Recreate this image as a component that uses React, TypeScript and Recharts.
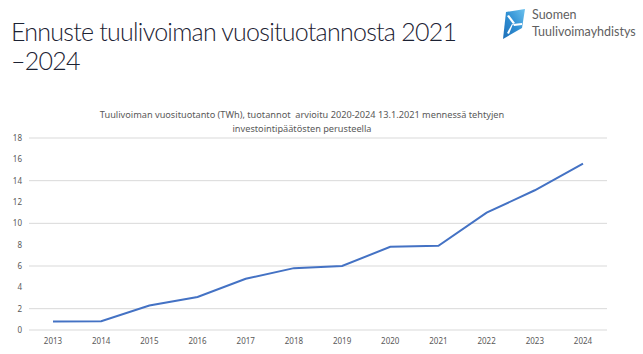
import { CartesianGrid, Line, LineChart, XAxis, YAxis } from "recharts";

const years = ["2013", "2014", "2015", "2016", "2017", "2018", "2019", "2020", "2021", "2022", "2023", "2024"];
const production = [0.8, 0.82, 2.3, 3.1, 4.8, 5.8, 6.0, 7.8, 7.9, 11.0, 13.1, 15.6];
const yTicks = [0, 2, 4, 6, 8, 10, 12, 14, 16, 18];

const data = years.map((year, i) => ({ year, value: production[i] }));

const tickStyle = { fontSize: 8, fill: "#595959", fontFamily: "'Noto Sans', sans-serif" };

function Logo() {
  return (
    <svg height={44} style={{ position: "absolute", left: 494, top: 4 }} width={36}>
      <defs>
        <linearGradient id="kite" x1="0" x2="1" y1="1" y2="0">
          <stop offset="0" stopColor="#1d6fb8" />
          <stop offset="0.5" stopColor="#2f8fd3" />
          <stop offset="1" stopColor="#6cc2ee" />
        </linearGradient>
      </defs>
      <polygon fill="url(#kite)" points="12,8 31,5 28,24 9,35" />
      <g fill="#fff">
        <polygon points="19,20 13,12 15,11 21,19" />
        <polygon points="19,20 28,19 28,21 20,22" />
        <polygon points="19,20 15,30 13,29 18,20" />
      </g>
    </svg>
  );
}

export default function App() {
  return (
    <div style={{ position: "absolute", left: 0, top: 0, width: 643, height: 354, background: "#fff" }}>
      <div
        style={{
          position: "absolute",
          left: 11,
          top: 17,
          fontFamily: "Lato, sans-serif",
          fontWeight: 300,
          fontSize: 25,
          letterSpacing: -0.75,
          lineHeight: "29px",
          color: "#1c2233",
          whiteSpace: "nowrap",
        }}
      >
        Ennuste tuulivoiman vuosituotannosta 2021
        <br />
        –2024
      </div>
      <Logo />
      <div
        style={{
          position: "absolute",
          left: 532,
          top: 6,
          fontFamily: "Lato, sans-serif",
          fontSize: 12.5,
          lineHeight: "17px",
          color: "#5f5f5f",
        }}
      >
        Suomen
        <br />
        Tuulivoimayhdistys
      </div>
      <div
        style={{
          position: "absolute",
          left: 60,
          width: 484,
          top: 108,
          textAlign: "center",
          fontFamily: "'Noto Sans', sans-serif",
          fontSize: 9.2,
          lineHeight: "14px",
          color: "#595959",
        }}
      >
        Tuulivoiman vuosituotanto (TWh), tuotannot&nbsp; arvioitu 2020-2024 13.1.2021 mennessä tehtyjen
        <br />
        investointipäätösten perusteella
      </div>
      <div style={{ position: "absolute", left: 0, top: 0 }}>
        <LineChart data={data} height={354} margin={{ top: 138, right: 36, bottom: 0, left: 0 }} width={643}>
          <CartesianGrid horizontal stroke="#d9d9d9" vertical={false} />
          <XAxis
            axisLine={false}
            dataKey="year"
            height={24}
            interval={0}
            padding={{ left: 24, right: 24 }}
            tick={tickStyle}
            tickLine={false}
            tickMargin={8}
            tickSize={0}
          />
          <YAxis
            axisLine={false}
            domain={[0, 18]}
            tick={tickStyle}
            tickLine={false}
            tickMargin={7}
            tickSize={0}
            ticks={yTicks}
            width={29}
          />
          <Line
            dataKey="value"
            dot={false}
            isAnimationActive={false}
            stroke="#4472c4"
            strokeWidth={2}
            type="linear"
          />
        </LineChart>
      </div>
    </div>
  );
}
